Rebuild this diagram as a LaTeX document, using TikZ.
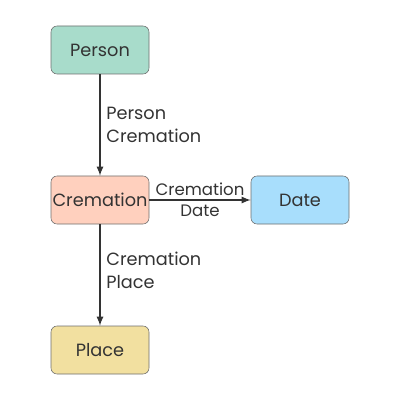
\documentclass[tikz,border=0pt]{standalone}
\usepackage{fontspec}
\setmainfont{Poppins}
\usetikzlibrary{shapes,arrows,positioning,calc}
\definecolor{personfill}{RGB}{168,220,203}
\definecolor{cremfill}{RGB}{255,208,190}
\definecolor{datefill}{RGB}{168,222,252}
\definecolor{placefill}{RGB}{242,224,160}
\definecolor{boxline}{RGB}{110,110,110}
\definecolor{arrowgrey}{RGB}{51,51,51}
\tikzset{
  entity/.style={draw=boxline, rectangle, rounded corners=0.15cm, minimum width=2.45cm, minimum height=1.2cm, inner xsep=1pt, font=\fontsize{12.6}{15}\selectfont, text=arrowgrey},
  link/.style={draw=arrowgrey, line width=1.2pt, -latex},
  linklabel/.style={font=\fontsize{12.6}{16.5}\selectfont, text=arrowgrey, align=left}
}
\begin{document}
\begin{tikzpicture}
				\useasboundingbox (0,0) rectangle (10,-10);
				% Entities
				\node[entity, fill=personfill] (person) at (2.5,-1.25) {Person};
				\node[entity, fill=cremfill] (cremation) at (2.5,-5) {Cremation};
				\node[entity, fill=datefill] (date) at (7.5,-5) {Date};
				\node[entity, fill=placefill] (place) at (2.5,-8.75) {Place};
				
				% Connections
				\draw[link] (person) -- node[linklabel, right, xshift=0.02cm] {Person\\Cremation} (cremation);
				\draw[link] (cremation) -- node[linklabel, align=center, font=\fontsize{11.8}{15}\selectfont] {Cremation\\Date} (date);
				\draw[link] (cremation) -- node[linklabel, right, xshift=0.02cm, yshift=0.125cm] {Cremation\\Place} (place);
			\end{tikzpicture}
\end{document}
